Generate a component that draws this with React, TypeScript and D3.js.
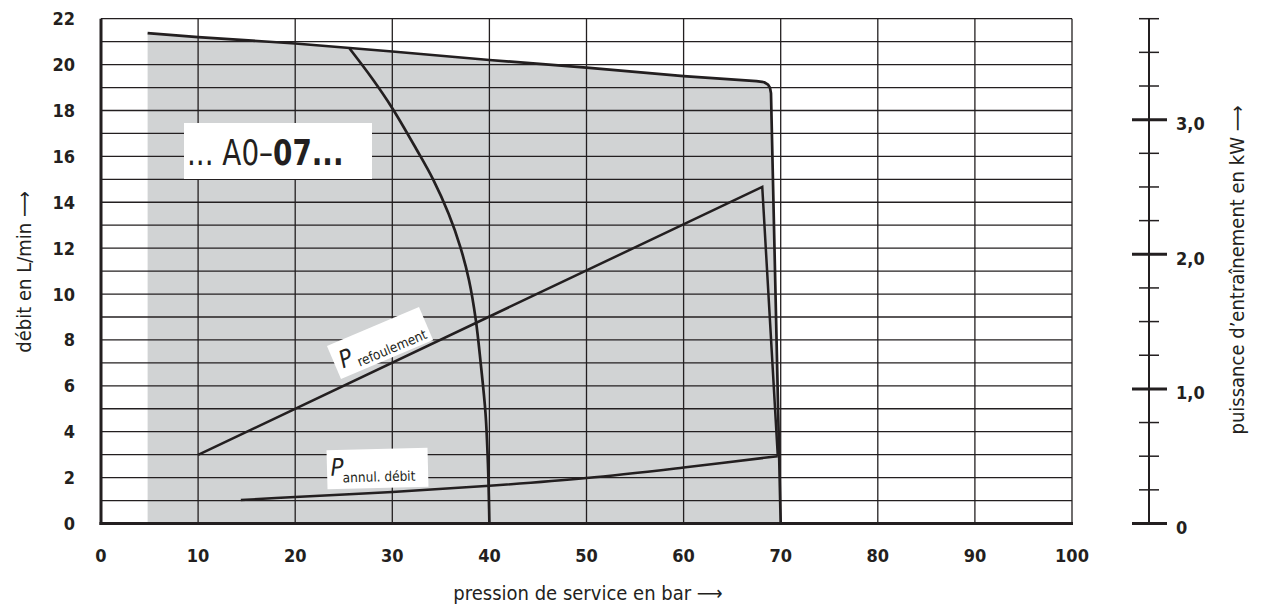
import React from "react";
import * as d3 from "d3";

const pressureTicks = [0, 10, 20, 30, 40, 50, 60, 70, 80, 90, 100];
const flowTicks = [0, 2, 4, 6, 8, 10, 12, 14, 16, 18, 20, 22];
const flowGrid = d3.range(0, 23);
const powerMajor = [0, 1, 2, 3];
const powerMajorLabels = ["0", "1,0", "2,0", "3,0"];
const powerMinor = [0.25, 0.5, 0.75, 1.25, 1.5, 1.75, 2.25, 2.5, 2.75, 3.25, 3.5, 3.75];

// Max flow limit curve (70 bar variant)
const limitPressure = [4.8, 10, 20, 30, 40, 50, 60, 67.5, 68.3, 68.7, 68.9, 69.0, 70.0];
const limitFlow = [21.37, 21.2, 20.92, 20.57, 20.2, 19.87, 19.5, 19.28, 19.23, 19.13, 18.98, 18.75, 0];

// 40 bar variant curve
const curve40Pressure = [25.6, 28, 30, 32.5, 34.2, 35.8, 37.0, 37.9, 38.6, 39.1, 39.6, 39.85, 40.0];
const curve40Flow = [20.7, 19.35, 18.1, 16.3, 15.0, 13.5, 12.06, 10.6, 8.87, 7.0, 4.8, 2.6, 0];

// Power curves (kW)
const refoulementPressure = [10, 68.1, 69.7];
const refoulementPower = [0.51, 2.5, 0.5];
const annulPressure = [14.4, 20, 30, 40, 50, 60, 69.7];
const annulPower = [0.175, 0.196, 0.234, 0.28, 0.338, 0.416, 0.5];

const INK = "#231f20";
const SHADE = "#d1d3d4";
const FONT = "'DejaVu Sans Condensed', 'DejaVu Sans', sans-serif";

export default function App() {
  const x = d3.scaleLinear().domain([0, 100]).range([101, 1072]);
  const y = d3.scaleLinear().domain([0, 22]).range([523.5, 18.7]);
  const yp = d3.scaleLinear().domain([0, 3.75]).range([523.5, 18.7]);

  const lineF = d3.line<[number, number]>().x((d) => x(d[0])).y((d) => y(d[1]));
  const lineP = d3.line<[number, number]>().x((d) => x(d[0])).y((d) => yp(d[1]));
  const smoothF = d3
    .line<[number, number]>()
    .x((d) => x(d[0]))
    .y((d) => y(d[1]))
    .curve(d3.curveCatmullRom);
  const smoothP = d3
    .line<[number, number]>()
    .x((d) => x(d[0]))
    .y((d) => yp(d[1]))
    .curve(d3.curveCatmullRom);

  const limitPts: [number, number][] = limitPressure.map((p, i) => [p, limitFlow[i]]);
  const shadePts: [number, number][] = [[limitPressure[0], 0], ...limitPts];
  const c40: [number, number][] = curve40Pressure.map((p, i) => [p, curve40Flow[i]]);
  const refPts: [number, number][] = refoulementPressure.map((p, i) => [p, refoulementPower[i]]);
  const annPts: [number, number][] = annulPressure.map((p, i) => [p, annulPower[i]]);

  const axX = 1149;

  return (
    <svg width={1262} height={608} style={{ display: "block", position: "absolute", left: 0, top: 0 }}>
      <rect width={1262} height={608} fill="#fff" />
      {/* shaded operating area */}
      <path d={lineF(shadePts) + "Z"} fill={SHADE} stroke="none" />

      {/* grid */}
      {flowGrid.map((v) => (
        <line key={"h" + v} x1={x(0)} x2={x(100)} y1={y(v)} y2={y(v)} stroke={INK} strokeWidth={1.3} />
      ))}
      {pressureTicks.map((v) => (
        <line key={"v" + v} x1={x(v)} x2={x(v)} y1={y(0)} y2={y(22)} stroke={INK} strokeWidth={1.3} />
      ))}
      {/* main axes */}
      <line x1={x(0)} x2={x(0)} y1={y(0) + 1.5} y2={y(22)} stroke={INK} strokeWidth={3} />
      <line x1={x(0) - 1.5} x2={x(100) + 1} y1={y(0)} y2={y(0)} stroke={INK} strokeWidth={3} />

      {/* model label box */}
      <rect x={184} y={123} width={188} height={56} fill="#fff" />
      <g transform="translate(187,165) scale(0.86,1)">
        <text x={0} y={0} fontFamily={FONT} fontSize={36} fill={INK}>
          <tspan>... A0–</tspan>
          <tspan fontWeight="bold">07...</tspan>
        </text>
      </g>

      {/* curves */}
      <path d={lineF(limitPts) || ""} fill="none" stroke={INK} strokeWidth={2.7} strokeLinejoin="round" />
      <path d={smoothF(c40) || ""} fill="none" stroke={INK} strokeWidth={2.7} />
      <path d={lineP(refPts) || ""} fill="none" stroke={INK} strokeWidth={2.5} strokeLinejoin="miter" />
      <path d={smoothP(annPts) || ""} fill="none" stroke={INK} strokeWidth={2.5} />

      {/* P refoulement label */}
      <g transform="translate(380,343) rotate(-23)">
        <rect x={-50} y={-18} width={100} height={36} fill="#fff" />
        <text x={-44} y={9} fontFamily={FONT} fontSize={24} fontStyle="italic" fill={INK}>
          P
        </text>
        <text x={-28} y={14} fontFamily={FONT} fontSize={13.5} fill={INK}>
          refoulement
        </text>
      </g>
      {/* P annul. débit label */}
      <g transform="translate(377.5,468.5) rotate(-1.5)">
        <rect x={-50.5} y={-19.5} width={101} height={39} fill="#fff" />
        <text x={-47} y={6} fontFamily={FONT} fontSize={24} fontStyle="italic" fill={INK}>
          P
        </text>
        <text x={-35} y={13} fontFamily={FONT} fontSize={13.5} fill={INK}>
          annul. débit
        </text>
      </g>

      {/* left tick labels */}
      {flowTicks.map((v) => (
        <text
          key={"yl" + v}
          x={75}
          y={y(v)}
          dy="0.36em"
          textAnchor="end"
          fontFamily={FONT}
          fontWeight="bold"
          fontSize={18}
          fill={INK}
        >
          {v}
        </text>
      ))}
      {/* bottom tick labels */}
      {pressureTicks.map((v) => (
        <text
          key={"xl" + v}
          x={x(v)}
          y={556}
          dy="0.36em"
          textAnchor="middle"
          fontFamily={FONT}
          fontWeight="bold"
          fontSize={18}
          fill={INK}
        >
          {v}
        </text>
      ))}

      {/* right power axis */}
      <line x1={axX} x2={axX} y1={yp(0)} y2={yp(3.75)} stroke={INK} strokeWidth={2} />
      {powerMinor.map((v) => (
        <line key={"pm" + v} x1={axX - 10} x2={axX + 10} y1={yp(v)} y2={yp(v)} stroke={INK} strokeWidth={1.5} />
      ))}
      {powerMajor.map((v, i) => (
        <g key={"pM" + v}>
          <line x1={axX - 17} x2={axX + 18} y1={yp(v)} y2={yp(v)} stroke={INK} strokeWidth={3} />
          <text
            x={1176}
            y={yp(v) + 4}
            dy="0.36em"
            fontFamily={FONT}
            fontWeight="bold"
            fontSize={18}
            fill={INK}
          >
            {powerMajorLabels[i]}
          </text>
        </g>
      ))}

      {/* axis titles */}
      <text x={588} y={600} textAnchor="middle" fontFamily={FONT} fontSize={20} fill={INK}>
        pression de service en bar ⟶
      </text>
      <text
        transform="translate(31,272) rotate(-90)"
        textAnchor="middle"
        fontFamily={FONT}
        fontSize={20}
        fill={INK}
      >
        débit en L/min ⟶
      </text>
      <text
        transform="translate(1244,270) rotate(-90)"
        textAnchor="middle"
        fontFamily={FONT}
        fontSize={20}
        fill={INK}
      >
        puissance d’entraînement en kW ⟶
      </text>
    </svg>
  );
}
